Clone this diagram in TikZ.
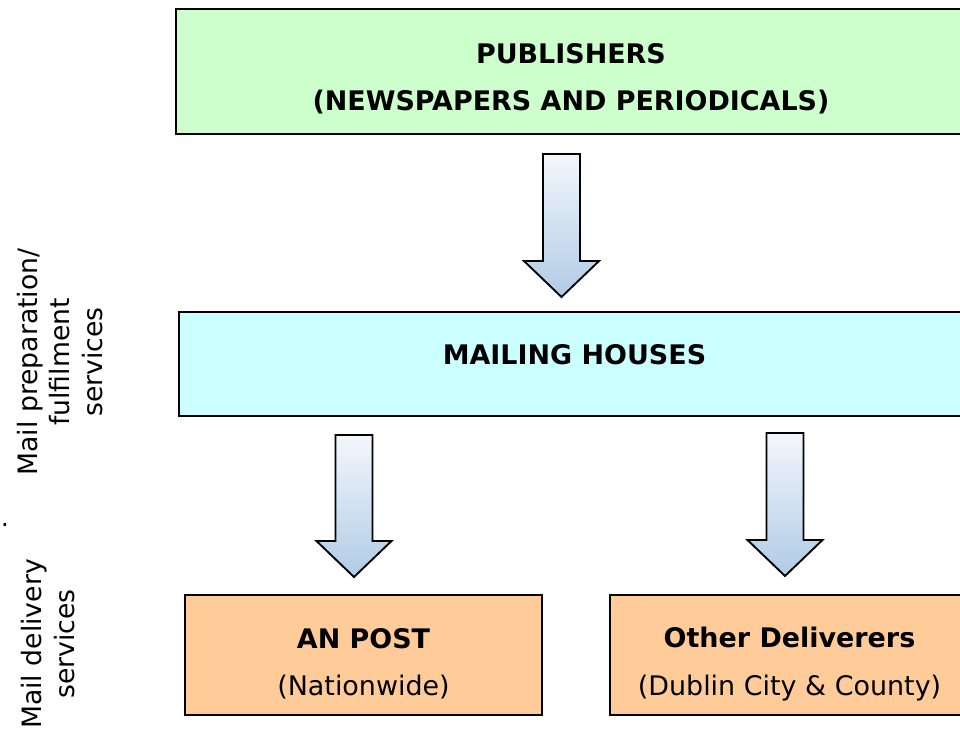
\documentclass[tikz,border=0pt]{standalone}
\usepackage{fontspec}
\setmainfont{DejaVu Sans}
\usepackage{xcolor}
\usetikzlibrary{calc, math}
\definecolor{pubgreen}{RGB}{204,255,204}
\definecolor{mailcyan}{RGB}{204,255,255}
\definecolor{delorange}{RGB}{255,204,153}
\definecolor{arrowtop}{RGB}{243,247,252}
\definecolor{arrowbot}{RGB}{176,203,230}

\tikzset{
box/.style={draw=black, line width=1.5pt, inner sep=0pt},
boxtext/.style={font=\fontsize{20.2}{35.5}\selectfont, align=center, inner sep=0pt},
sidetext/.style={font=\fontsize{20}{24.5}\selectfont, align=center, rotate=90, inner sep=0pt},
barrow/.style={draw=black, line width=1.4pt, line join=miter, top color=arrowtop, bottom color=arrowbot},
}
% block arrow from top centre #1 down to tip #2
\newcommand{\blockarrow}[2]{
\draw[barrow] ($(#1)+(-\shaftw,0)$) -- ($(#2)+(-\shaftw,-\headl)$) -- ($(#2)+(-\headw,-\headl)$) -- (#2)
 -- ($(#2)+(\headw,-\headl)$) -- ($(#2)+(\shaftw,-\headl)$) -- ($(#1)+(\shaftw,0)$) -- cycle;
}

\begin{document}
\begin{tikzpicture}[x=0.75pt,y=-0.75pt]
\tikzmath{
\shaftw=18.5;
\headw=37.5;
\headl=36;
}
\useasboundingbox (0,0) rectangle (960,729);
\clip (0,0) rectangle (960,729);

% boxes
\node[box, fill=pubgreen, minimum width=592.5pt, minimum height=93.75pt] (pub) at (571,71.5) {};
\node[boxtext] (pubtxt) at ($(pub.center)+(0,7.5)$) {\textbf{PUBLISHERS}\\\textbf{(NEWSPAPERS AND PERIODICALS)}};

\node[box, fill=mailcyan, minimum width=593.25pt, minimum height=78pt] (mail) at (574.5,364) {};
\node[boxtext] (mailtxt) at ($(mail.center)+(0,-9)$) {\textbf{MAILING HOUSES}};

\node[box, fill=delorange, minimum width=267.75pt, minimum height=90pt] (an) at (363.5,655) {};
\node[boxtext] (antxt) at ($(an.center)+(0,9)$) {\textbf{AN POST}\\(Nationwide)};

\node[box, fill=delorange, minimum width=269.25pt, minimum height=90pt] (oth) at (789.5,655) {};
\node[boxtext] (othtxt) at ($(oth.center)+(0,9)$) {\textbf{Other Deliverers}\\(Dublin City \& County)};

% arrows
\coordinate (a1top) at ($(pub.south)+(-9.5,19)$);
\coordinate (a1tip) at ($(a1top |- mail.north)+(0,-14)$);
\coordinate (a2top) at ($(an.north |- mail.south)+(-9.5,18)$);
\coordinate (a2tip) at ($(an.north)+(-9.5,-17)$);
\coordinate (a3top) at ($(oth.north |- mail.south)+(-4.5,16)$);
\coordinate (a3tip) at ($(oth.north)+(-4.5,-18)$);
\blockarrow{a1top}{a1tip}
\blockarrow{a2top}{a2tip}
\blockarrow{a3top}{a3tip}

% side labels
\node[sidetext] (prep) at (60,362) {Mail preparation/\\fulfilment\\services};
\node[sidetext] (deliv) at (48,644) {Mail delivery\\services};
\node[font=\fontsize{18}{20}\selectfont, inner sep=0pt] (dot) at (5,525) {.};
\end{tikzpicture}
\end{document}
